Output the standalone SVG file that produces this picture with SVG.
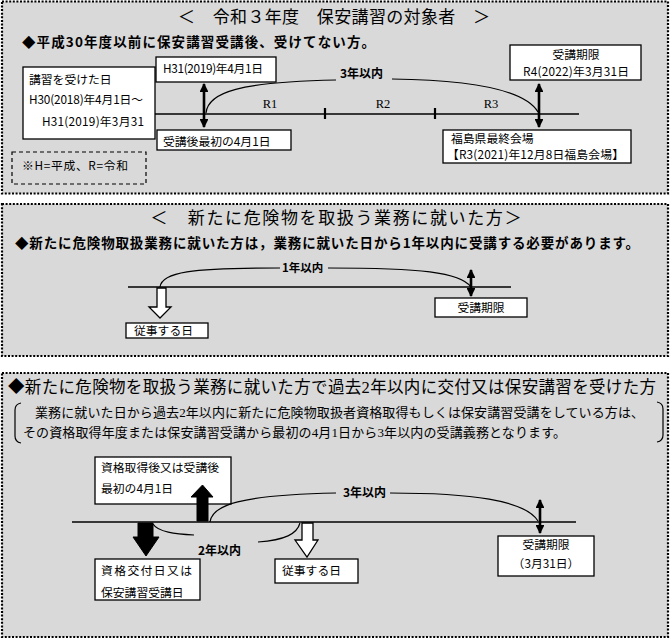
<svg xmlns="http://www.w3.org/2000/svg" width="672" height="641" viewBox="0 0 672 641">
<defs>
<style>
.panel{fill:#d9d9d9;stroke:#000;stroke-width:2.2;stroke-dasharray:2 1.6}
.box{fill:#fff;stroke:#000;stroke-width:1.3}
.dbox{fill:none;stroke:#000;stroke-width:1.2;stroke-dasharray:4 3}
.ln{fill:none;stroke:#000;stroke-width:1.5}
.cv{fill:none;stroke:#000;stroke-width:1.2}
.dbl{stroke:#000;stroke-width:2.6;marker-start:url(#ah);marker-end:url(#ah)}
.t{font-family:"Noto Sans CJK JP","Liberation Sans",sans-serif;font-size:11.8px;fill:#000}
.s{font-family:"Liberation Serif","Noto Sans CJK JP",serif;fill:#000}
.b{font-family:"Noto Sans CJK JP","Liberation Sans",sans-serif;font-weight:bold;fill:#000}
.wa{fill:#fff;stroke:#000;stroke-width:1.3}
.ba{fill:#000;stroke:#000;stroke-width:1}
</style>
<marker id="ah" viewBox="0 0 10 10" refX="9" refY="5" markerWidth="3.4" markerHeight="3.4" orient="auto-start-reverse" markerUnits="strokeWidth">
<path d="M0,0 L10,5 L0,10 Z" fill="#000"/>
</marker>
</defs>
<rect width="672" height="641" fill="#fff"/>

<!-- Panel 1 -->
<g id="panel1">
<rect class="panel" x="2" y="1.5" width="666" height="192"/>
<text class="s" x="334" y="23" font-size="17" text-anchor="middle" textLength="312">＜　令和３年度　保安講習の対象者　＞</text>
<text class="b" x="22" y="47" font-size="13.5" textLength="353">◆平成30年度以前に保安講習受講後、受けてない方。</text>
</g>
<g id="n-lecture-date">
<rect class="box" x="23" y="67" width="132" height="72"/>
<text class="t" x="29" y="84">講習を受けた日</text>
<text class="t" x="29" y="104" textLength="114">H30(2018)年4月1日～</text>
<text class="t" x="42" y="126" textLength="102">H31(2019)年3月31</text>
</g>
<g id="n-h31">
<rect class="box" x="156" y="57" width="120" height="25"/>
<text class="t" x="163" y="73" textLength="100">H31(2019)年4月1日</text>
</g>
<g id="n-first-april">
<rect class="box" x="157" y="130" width="134" height="20"/>
<text class="t" x="163" y="146">受講後最初の4月1日</text>
</g>
<g id="n-legend">
<rect class="dbox" x="12" y="152" width="134" height="32"/>
<text class="t" x="22" y="170" textLength="106">※H=平成、R=令和</text>
</g>
<g id="n-deadline1">
<rect class="box" x="510" y="45" width="131" height="35"/>
<text class="t" x="576" y="59" text-anchor="middle">受講期限</text>
<text class="t" x="576" y="76" text-anchor="middle" textLength="106">R4(2022)年3月31日</text>
</g>
<g id="n-fukushima">
<rect class="box" x="443" y="130" width="188" height="33"/>
<text class="t" x="451" y="143" font-size="11.3">福島県最終会場</text>
<text class="t" x="447" y="159" font-size="11.3" textLength="177">【R3(2021)年12月8日福島会場】</text>
</g>
<g id="connectors1">
<line class="ln" x1="155" y1="114" x2="579" y2="114"/>
<line x1="325" y1="108" x2="325" y2="119" stroke="#000" stroke-width="2.2"/>
<line x1="435" y1="108" x2="435" y2="119" stroke="#000" stroke-width="2.2"/>
<path class="cv" d="M206,113 C208,92 240,82 336,80"/>
<path class="cv" d="M392,79 C470,80 525,90 538,112"/>
<line class="dbl" x1="204" y1="84" x2="204" y2="127"/>
<line class="dbl" x1="539" y1="84" x2="539" y2="127"/>
<text class="b" x="340" y="78" font-size="12">3年以内</text>
<text class="s" x="270" y="108" font-size="12.5" text-anchor="middle">R1</text>
<text class="s" x="383" y="108" font-size="12.5" text-anchor="middle">R2</text>
<text class="s" x="491" y="108" font-size="12.5" text-anchor="middle">R3</text>
</g>

<!-- Panel 2 -->
<g id="panel2">
<rect class="panel" x="2" y="204" width="666" height="152"/>
<text class="s" x="336" y="224" font-size="17" text-anchor="middle" textLength="371">＜　新たに危険物を取扱う業務に就いた方＞</text>
<text class="b" x="15" y="248" font-size="13.5" textLength="624">◆新たに危険物取扱業務に就いた方は，業務に就いた日から1年以内に受講する必要があります。</text>
</g>
<g id="n-start2">
<rect class="box" x="126" y="323" width="82" height="15"/>
<text class="t" x="134" y="335">従事する日</text>
</g>
<g id="n-deadline2">
<rect class="box" x="435" y="298" width="92" height="19"/>
<text class="t" x="481" y="312" text-anchor="middle">受講期限</text>
</g>
<g id="connectors2">
<line class="ln" x1="128" y1="287" x2="511" y2="287"/>
<path class="cv" d="M160,287 C162,272 190,268 280,268"/>
<path class="cv" d="M328,268 C420,268 460,272 471,287"/>
<line class="dbl" x1="471" y1="270" x2="471" y2="296"/>
<text class="b" x="282" y="272" font-size="11.5">1年以内</text>
<path class="wa" d="M157,288 L166,288 L166,307 L171,307 L160,318 L149,307 L157,307 Z"/>
</g>

<!-- Panel 3 -->
<g id="panel3">
<rect class="panel" x="2" y="373" width="666" height="264"/>
<text class="s" x="8" y="393" font-size="16.5" textLength="648">◆新たに危険物を取扱う業務に就いた方で過去2年以内に交付又は保安講習を受けた方</text>
<path class="cv" d="M21,403 Q15,404 15,410 L15,436 Q15,442 21,443"/>
<path class="cv" d="M657,402 Q663,403 663,409 L663,435 Q663,441 657,442"/>
<text class="s" x="35" y="417" font-size="13" textLength="609">業務に就いた日から過去2年以内に新たに危険物取扱者資格取得もしくは保安講習受講をしている方は、</text>
<text class="s" x="23" y="437" font-size="13" textLength="543">その資格取得年度または保安講習受講から最初の4月1日から3年以内の受講義務となります。</text>
</g>
<g id="n-qual-first">
<rect class="box" x="95" y="457" width="136" height="47"/>
<text class="t" x="101" y="472">資格取得後又は受講後</text>
<text class="t" x="101" y="493">最初の4月1日</text>
</g>
<g id="n-issue-date">
<rect class="box" x="95" y="559" width="105" height="41"/>
<text class="t" x="101" y="575" textLength="91">資格交付日又は</text>
<text class="t" x="101" y="597">保安講習受講日</text>
</g>
<g id="n-start3">
<rect class="box" x="275" y="559" width="83" height="24"/>
<text class="t" x="282" y="575">従事する日</text>
</g>
<g id="n-deadline3">
<rect class="box" x="498" y="536" width="96" height="40"/>
<text class="t" x="546" y="549" text-anchor="middle">受講期限</text>
<text class="t" x="546" y="568" text-anchor="middle">（3月31日）</text>
</g>
<g id="connectors3">
<line class="ln" x1="72" y1="522" x2="576" y2="522"/>
<path class="cv" d="M210,522 C212,505 240,495 336,493"/>
<path class="cv" d="M390,493 C470,493 525,500 538,521"/>
<path class="cv" d="M153,524 C158,532 175,534 194,535"/>
<path class="cv" d="M258,542 C285,540 297,534 300,523"/>
<line class="dbl" x1="540" y1="500" x2="540" y2="533"/>
<text class="b" x="343" y="497" font-size="12">3年以内</text>
<text class="b" x="198" y="555" font-size="12">2年以内</text>
<path class="ba" d="M197,521 L208,521 L208,497 L213,497 L202.5,485 L191,497 L197,497 Z"/>
<path class="ba" d="M138,523 L153,523 L153,537 L159,537 L146,556 L133,537 L138,537 Z"/>
<path class="wa" d="M302,523 L313,523 L313,540 L318,540 L307,557 L295,540 L302,540 Z"/>
</g>
</svg>
